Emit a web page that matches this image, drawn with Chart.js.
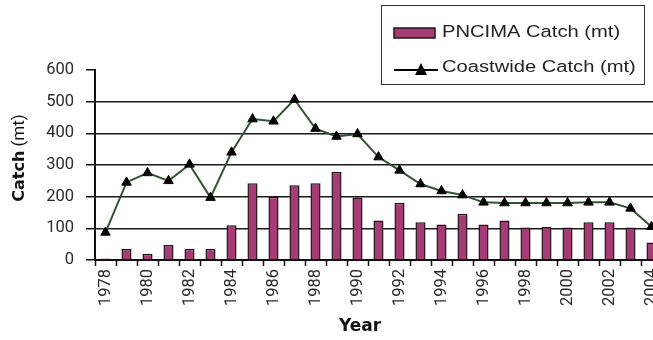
<!DOCTYPE html>
<html>
<head>
<meta charset="utf-8">
<script src="https://cdn.jsdelivr.net/npm/chart.js@4/dist/chart.umd.min.js"></script>
<style>
  html, body { margin: 0; padding: 0; background: #fff; overflow: hidden; width: 653px; height: 340px; }
  #wrap { position: relative; width: 680px; height: 340px; }
</style>
</head>
<body>
<div id="wrap"><canvas id="chart" width="680" height="340"></canvas></div>
<script>
// Annual catch, metric tonnes
const years = ['1978','1979','1980','1981','1982','1983','1984','1985','1986','1987','1988','1989','1990',
               '1991','1992','1993','1994','1995','1996','1997','1998','1999','2000','2001','2002','2003','2004'];
const pncimaCatch    = [5, 35, 20, 47, 35, 35, 110, 242, 200, 236, 242, 278, 197,
                        125, 181, 119, 112, 146, 112, 125, 103, 105, 103, 119, 119, 103, 55];
const coastwideCatch = [87, 245, 275, 250, 302, 197, 340, 445, 438, 507, 415, 390, 398,
                        325, 283, 240, 218, 205, 182, 180, 180, 180, 180, 182, 182, 163, 105];
const yAxisMax = 600;
const yAxisStep = 100;

const BAR_FILL = '#a63c76';
const BAR_EDGE = '#24121b';
const LINE_COLOR = '#335333';

// Boxed legend in the top-right corner
const boxedLegend = {
  id: 'boxedLegend',
  afterDraw(chart) {
    const ctx = chart.ctx;
    const ds = chart.data.datasets;
    ctx.save();
    ctx.strokeStyle = '#333';
    ctx.lineWidth = 1;
    ctx.strokeRect(381.5, 5.5, 263, 79);

    // bar swatch
    ctx.fillStyle = BAR_FILL;
    ctx.fillRect(394, 28, 41, 10);
    ctx.strokeStyle = BAR_EDGE;
    ctx.lineWidth = 1.5;
    ctx.strokeRect(394, 28, 41, 10);

    // line + marker swatch
    ctx.strokeStyle = '#000';
    ctx.lineWidth = 2;
    ctx.beginPath();
    ctx.moveTo(394, 70);
    ctx.lineTo(438, 70);
    ctx.stroke();
    ctx.fillStyle = '#000';
    ctx.beginPath();
    ctx.moveTo(421, 63);
    ctx.lineTo(427, 75);
    ctx.lineTo(415, 75);
    ctx.closePath();
    ctx.fill();

    ctx.fillStyle = '#222';
    ctx.font = '16px "Liberation Sans", Arial, sans-serif';
    ctx.textBaseline = 'middle';
    ctx.textAlign = 'left';
    const rows = [[ds[0].label, 33], [ds[1].label, 68]];
    rows.forEach(([txt, y]) => {
      ctx.save();
      ctx.translate(442, y);
      ctx.scale(1.26, 1);
      ctx.fillText(txt, 0, 0);
      ctx.restore();
    });
    ctx.restore();
  }
};

// Axis titles: "Catch (mt)" mixes bold and regular, "Year" bold
const axisTitles = {
  id: 'axisTitles',
  afterDraw(chart) {
    const ctx = chart.ctx;
    ctx.save();
    ctx.fillStyle = '#111';
    ctx.textBaseline = 'middle';
    ctx.textAlign = 'left';
    const boldFont = 'bold 16px "DejaVu Sans", sans-serif';
    const regFont = '17px Roboto, sans-serif';
    ctx.font = boldFont;
    const w1 = ctx.measureText('Catch').width;
    ctx.font = regFont;
    const w2 = ctx.measureText(' (mt)').width;
    ctx.translate(20, 158);
    ctx.rotate(-Math.PI / 2);
    const start = -(w1 + w2) / 2;
    ctx.font = boldFont;
    ctx.fillText('Catch', start, 0);
    ctx.font = regFont;
    ctx.fillText(' (mt)', start + w1, 0);
    ctx.restore();

    ctx.save();
    ctx.fillStyle = '#111';
    ctx.font = 'bold 17px "DejaVu Sans", sans-serif';
    ctx.textAlign = 'center';
    ctx.textBaseline = 'middle';
    ctx.fillText('Year', 360, 327);
    ctx.restore();
  }
};

new Chart(document.getElementById('chart'), {
  data: {
    labels: years,
    datasets: [
      {
        type: 'bar',
        label: 'PNCIMA Catch (mt)',
        data: pncimaCatch,
        backgroundColor: BAR_FILL,
        borderColor: BAR_EDGE,
        borderWidth: 1.5,
        barPercentage: 0.48,
        categoryPercentage: 1,
        order: 1
      },
      {
        type: 'line',
        label: 'Coastwide Catch (mt)',
        data: coastwideCatch,
        borderColor: LINE_COLOR,
        borderWidth: 2,
        tension: 0,
        pointStyle: 'triangle',
        pointRadius: 5.5,
        pointBackgroundColor: '#000',
        pointBorderColor: '#000',
        pointBorderWidth: 1,
        order: 0
      }
    ]
  },
  options: {
    responsive: false,
    animation: false,
    devicePixelRatio: 1,
    layout: { padding: { top: 70, right: 18, left: 0, bottom: 0 } },
    plugins: {
      legend: { display: false },
      tooltip: { enabled: false }
    },
    scales: {
      x: {
        type: 'category',
        offset: true,
        afterFit(scale) { scale.height = 80; },
        grid: {
          display: true,
          offset: true,
          drawOnChartArea: false,
          drawTicks: true,
          tickLength: 6,
          tickColor: '#111',
          tickWidth: 1.5
        },
        border: { display: true, color: '#111', width: 2 },
        ticks: {
          autoSkip: false,
          maxRotation: 90,
          minRotation: 90,
          padding: 3,
          color: '#2a2a2a',
          font: { family: 'Roboto', size: 16.5 },
          callback(value, index) { return index % 2 === 0 ? years[index] : ''; }
        }
      },
      y: {
        min: 0,
        max: yAxisMax,
        afterFit(scale) { scale.width = 95; },
        ticks: {
          stepSize: yAxisStep,
          padding: 12,
          color: '#2a2a2a',
          font: { family: 'Roboto', size: 16.5 }
        },
        grid: {
          color(ctx) { return ctx.tick && ctx.tick.value === yAxisMax ? 'rgba(0,0,0,0)' : '#1a1a1a'; },
          lineWidth: 1.5,
          drawTicks: true,
          tickLength: 9,
          tickColor: '#111',
          tickWidth: 1.5
        },
        border: { display: true, color: '#111', width: 2 }
      }
    }
  },
  plugins: [boxedLegend, axisTitles]
});
</script>
</body>
</html>
